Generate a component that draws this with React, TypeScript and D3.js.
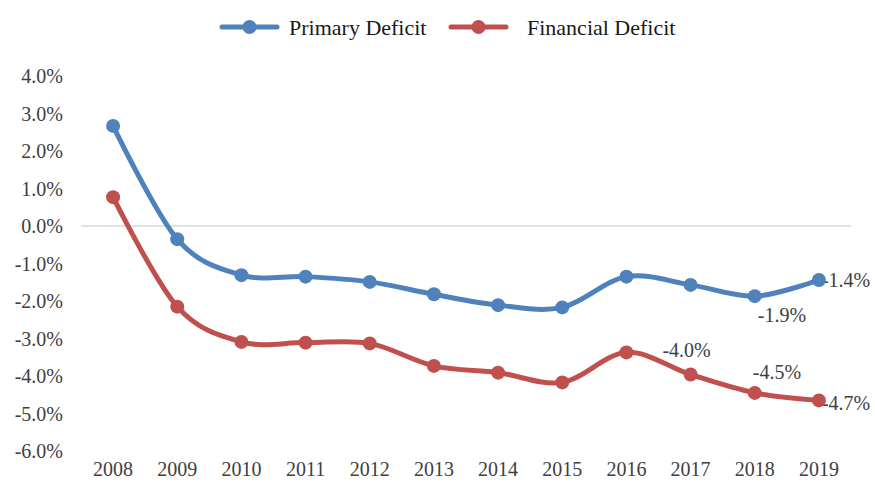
import React from "react";
import * as d3 from "d3";

const years = ["2008","2009","2010","2011","2012","2013","2014","2015","2016","2017","2018","2019"];
const primaryDeficit = [2.67, -0.35, -1.31, -1.35, -1.49, -1.82, -2.11, -2.17, -1.35, -1.57, -1.87, -1.44];
const financialDeficit = [0.77, -2.15, -3.09, -3.11, -3.13, -3.73, -3.91, -4.17, -3.37, -3.96, -4.45, -4.65];
const yTicks = [4, 3, 2, 1, 0, -1, -2, -3, -4, -5, -6];
const seriesNames = ["Primary Deficit", "Financial Deficit"];

// data labels: [seriesIndex, yearIndex, text]
const dataLabels: [number, number, string][] = [
  [0, 11, "-1.4%"],
  [0, 10, "-1.9%"],
  [1, 9, "-4.0%"],
  [1, 10, "-4.5%"],
  [1, 11, "-4.7%"],
];
// label placement offsets (style only)
const labelOffsets = [
  { dx: 3, dy: 7, anchor: "start" },
  { dx: 3, dy: 26, anchor: "start" },
  { dx: -4, dy: -18, anchor: "middle" },
  { dx: -2, dy: -14, anchor: "start" },
  { dx: 3, dy: 10, anchor: "start" },
];

const W = 875;
const H = 482;
const COLORS = ["#4F81BD", "#C0504D"];
const FONT = "Liberation Serif";

export default function App() {
  const x = d3.scaleBand<string>().domain(years).range([81, 851]);
  const xc = (i: number) => (x(years[i]) as number) + x.bandwidth() / 2;
  const y = d3.scaleLinear().domain([-6, 4]).range([451, 76]);
  const series = [primaryDeficit, financialDeficit];
  const line = d3
    .line<number>()
    .x((_, i) => xc(i))
    .y((d) => y(d))
    .curve(d3.curveCardinal.tension(0));

  const ts = { fontFamily: FONT };

  return (
    <svg width={W} height={H} style={{ position: "absolute", left: 0, top: 0, background: "#fff" }}>
      <rect x={0} y={0} width={W} height={H} fill="#fff" />
      <line x1={81} x2={851} y1={y(0)} y2={y(0)} stroke="#d9d9d9" strokeWidth={1.5} />
      {yTicks.map((t) => (
        <text key={t} x={63} y={y(t) + 7} textAnchor="end" fontSize={20} fill="#404040" style={ts}>
          {t.toFixed(1) + "%"}
        </text>
      ))}
      {years.map((yr, i) => (
        <text key={yr} x={xc(i)} y={476} textAnchor="middle" fontSize={20} fill="#404040" style={ts}>
          {yr}
        </text>
      ))}
      {series.map((s, si) => (
        <path key={si} d={line(s) || ""} fill="none" stroke={COLORS[si]} strokeWidth={5} strokeLinecap="round" />
      ))}
      {dataLabels.map(([si, yi, txt], k) => (
        <text
          key={k}
          x={xc(yi) + labelOffsets[k].dx}
          y={y(series[si][yi]) + labelOffsets[k].dy}
          textAnchor={labelOffsets[k].anchor as any}
          fontSize={20}
          fill="#404040"
          style={ts}
        >
          {txt}
        </text>
      ))}
      {series.map((s, si) =>
        s.map((v, i) => <circle key={si + "-" + i} cx={xc(i)} cy={y(v)} r={7} fill={COLORS[si]} />)
      )}
      {seriesNames.map((name, si) => {
        const lx = si === 0 ? 222 : 451;
        return (
          <g key={name}>
            <line x1={lx} x2={lx + 55} y1={27} y2={27} stroke={COLORS[si]} strokeWidth={5} strokeLinecap="round" />
            <circle cx={lx + 27.5} cy={27} r={7} fill={COLORS[si]} />
            <text x={lx + (si === 0 ? 67 : 76)} y={35} fontSize={22} fill="#1a1a1a" style={ts}>
              {name}
            </text>
          </g>
        );
      })}
    </svg>
  );
}
